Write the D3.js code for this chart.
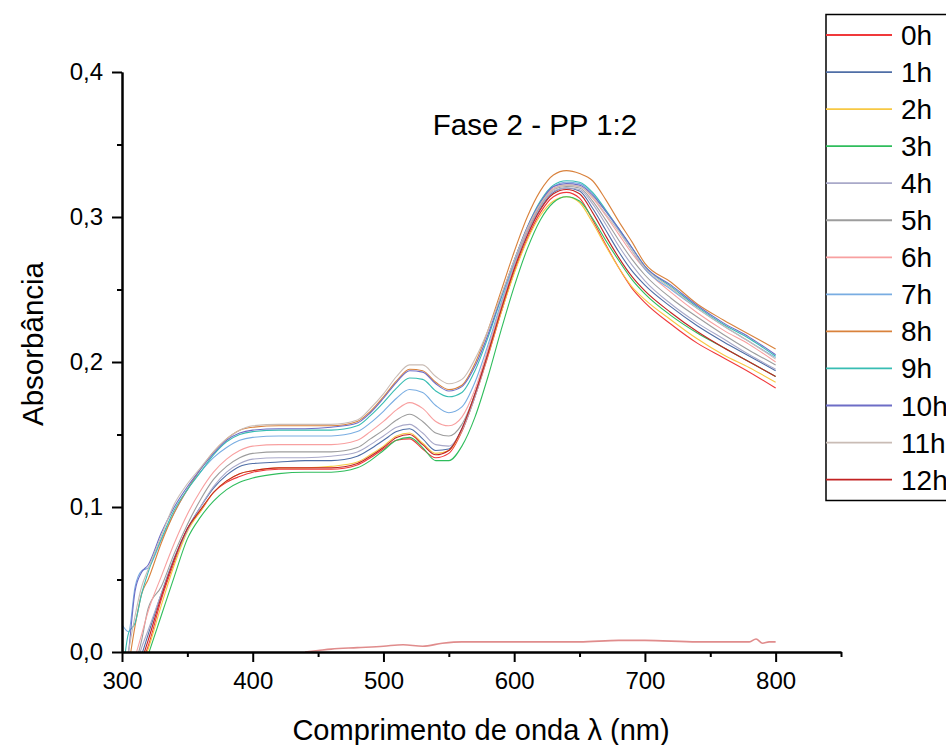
<!DOCTYPE html>
<html>
<head>
<meta charset="utf-8">
<script src="https://cdn.jsdelivr.net/npm/d3@7"></script>
<style>
  body { margin: 0; background: #fff; }
  svg { font-family: "Liberation Sans", Arial, sans-serif; }
</style>
</head>
<body>
<svg id="chart" width="946" height="745"></svg>
<script>
// wavelengths (nm) shared by all the spectra
const WAVELENGTHS = [300, 305, 310, 315, 320, 330, 340, 350, 360, 370, 380, 390, 400, 420, 440, 460, 480, 490, 500, 510, 520, 530, 540, 550, 560, 570, 580, 590, 600, 610, 620, 630, 640, 650, 660, 670, 680, 690, 700, 720, 740, 760, 780, 800]

const SERIES_NAMES = ["0h", "1h", "2h", "3h", "4h", "5h", "6h", "7h", "8h", "9h", "10h", "11h", "12h"]
const SERIES_COLORS = ["#f0393b", "#4f6ea6", "#f7c843", "#2fbd5c", "#a9a9c9", "#9d9d9d", "#f8a0a0", "#79ade2", "#d9823c", "#38bdb3", "#6d6dc6", "#c9bcb5", "#c22222"]

const ABS_0H  = [-0.04, -0.035, -0.025, -0.008, 0.004, 0.036, 0.062, 0.085, 0.097, 0.110, 0.117, 0.121, 0.124, 0.126, 0.126, 0.126, 0.129, 0.134, 0.140, 0.146, 0.147, 0.140, 0.134, 0.137, 0.152, 0.176, 0.204, 0.234, 0.262, 0.285, 0.303, 0.314, 0.317, 0.313, 0.298, 0.281, 0.265, 0.251, 0.241, 0.226, 0.213, 0.203, 0.193, 0.182]
const ABS_1H  = [-0.04, -0.03, -0.015, -0.002, 0.012, 0.040, 0.065, 0.085, 0.100, 0.113, 0.122, 0.128, 0.130, 0.131, 0.132, 0.132, 0.135, 0.140, 0.146, 0.152, 0.154, 0.147, 0.139, 0.140, 0.154, 0.178, 0.207, 0.237, 0.265, 0.288, 0.306, 0.317, 0.320, 0.318, 0.306, 0.291, 0.276, 0.263, 0.253, 0.238, 0.225, 0.214, 0.204, 0.194]
const ABS_2H  = [-0.04, -0.035, -0.025, -0.010, 0.002, 0.032, 0.060, 0.083, 0.097, 0.110, 0.118, 0.123, 0.125, 0.127, 0.127, 0.128, 0.131, 0.136, 0.142, 0.149, 0.151, 0.144, 0.137, 0.139, 0.153, 0.177, 0.205, 0.234, 0.261, 0.284, 0.301, 0.311, 0.314, 0.310, 0.296, 0.280, 0.265, 0.252, 0.243, 0.229, 0.216, 0.205, 0.196, 0.186]
const ABS_3H  = [-0.05, -0.04, -0.03, -0.015, -0.002, 0.025, 0.052, 0.078, 0.093, 0.104, 0.112, 0.117, 0.120, 0.123, 0.124, 0.124, 0.127, 0.132, 0.139, 0.146, 0.148, 0.141, 0.132, 0.132, 0.142, 0.162, 0.190, 0.222, 0.252, 0.278, 0.298, 0.310, 0.314, 0.311, 0.299, 0.284, 0.270, 0.257, 0.247, 0.232, 0.220, 0.210, 0.200, 0.190]
const ABS_4H  = [-0.04, -0.03, -0.012, 0.003, 0.015, 0.040, 0.064, 0.084, 0.100, 0.114, 0.124, 0.130, 0.133, 0.134, 0.134, 0.135, 0.138, 0.143, 0.149, 0.155, 0.157, 0.151, 0.143, 0.142, 0.153, 0.176, 0.206, 0.237, 0.265, 0.289, 0.307, 0.318, 0.320, 0.319, 0.309, 0.295, 0.280, 0.267, 0.256, 0.240, 0.227, 0.216, 0.205, 0.195]
const ABS_5H  = [-0.04, -0.03, -0.01, 0.008, 0.030, 0.045, 0.068, 0.088, 0.105, 0.119, 0.128, 0.134, 0.137, 0.138, 0.138, 0.138, 0.141, 0.147, 0.153, 0.160, 0.164, 0.159, 0.151, 0.149, 0.157, 0.178, 0.207, 0.238, 0.266, 0.290, 0.308, 0.319, 0.321, 0.320, 0.311, 0.298, 0.284, 0.271, 0.260, 0.244, 0.231, 0.219, 0.208, 0.198]
const ABS_6H  = [-0.04, -0.025, -0.004, 0.012, 0.028, 0.052, 0.075, 0.095, 0.111, 0.124, 0.133, 0.139, 0.142, 0.143, 0.143, 0.143, 0.146, 0.152, 0.159, 0.167, 0.172, 0.168, 0.159, 0.156, 0.162, 0.181, 0.209, 0.239, 0.267, 0.291, 0.309, 0.320, 0.322, 0.321, 0.313, 0.301, 0.288, 0.275, 0.264, 0.248, 0.234, 0.222, 0.212, 0.200]
const ABS_7H  = [0.019, 0.014, 0.045, 0.056, 0.058, 0.077, 0.096, 0.112, 0.124, 0.134, 0.141, 0.146, 0.148, 0.149, 0.149, 0.149, 0.152, 0.158, 0.166, 0.175, 0.181, 0.179, 0.170, 0.165, 0.169, 0.186, 0.212, 0.241, 0.268, 0.292, 0.310, 0.321, 0.324, 0.323, 0.316, 0.304, 0.291, 0.277, 0.264, 0.250, 0.237, 0.225, 0.214, 0.203]
const ABS_8H  = [-0.04, -0.01, 0.018, 0.040, 0.050, 0.075, 0.096, 0.112, 0.126, 0.138, 0.147, 0.153, 0.155, 0.156, 0.156, 0.156, 0.159, 0.166, 0.176, 0.187, 0.195, 0.194, 0.186, 0.181, 0.184, 0.199, 0.222, 0.249, 0.276, 0.300, 0.318, 0.329, 0.332, 0.330, 0.325, 0.312, 0.297, 0.283, 0.268, 0.255, 0.240, 0.229, 0.219, 0.209]
const ABS_9H  = [-0.02, 0.013, 0.020, 0.040, 0.055, 0.078, 0.098, 0.112, 0.124, 0.136, 0.145, 0.150, 0.152, 0.153, 0.153, 0.153, 0.156, 0.163, 0.172, 0.182, 0.189, 0.188, 0.180, 0.176, 0.179, 0.194, 0.217, 0.244, 0.270, 0.293, 0.311, 0.322, 0.325, 0.324, 0.317, 0.305, 0.292, 0.279, 0.266, 0.252, 0.238, 0.226, 0.216, 0.204]
const ABS_10H = [-0.03, 0.000, 0.042, 0.055, 0.060, 0.082, 0.100, 0.114, 0.126, 0.137, 0.146, 0.151, 0.153, 0.154, 0.154, 0.155, 0.158, 0.165, 0.175, 0.186, 0.194, 0.193, 0.185, 0.180, 0.183, 0.197, 0.219, 0.245, 0.270, 0.293, 0.310, 0.321, 0.323, 0.322, 0.315, 0.304, 0.292, 0.279, 0.266, 0.253, 0.239, 0.227, 0.217, 0.205]
const ABS_11H = [-0.03, 0.000, 0.025, 0.045, 0.057, 0.080, 0.102, 0.116, 0.127, 0.138, 0.147, 0.153, 0.156, 0.157, 0.157, 0.157, 0.160, 0.168, 0.178, 0.190, 0.198, 0.198, 0.190, 0.185, 0.188, 0.202, 0.222, 0.246, 0.270, 0.292, 0.309, 0.319, 0.322, 0.321, 0.314, 0.302, 0.290, 0.277, 0.265, 0.251, 0.237, 0.225, 0.214, 0.202]
const ABS_12H = [-0.04, -0.03, -0.02, -0.006, 0.008, 0.038, 0.064, 0.085, 0.098, 0.110, 0.118, 0.123, 0.125, 0.127, 0.127, 0.127, 0.130, 0.135, 0.141, 0.148, 0.150, 0.143, 0.136, 0.139, 0.154, 0.178, 0.206, 0.236, 0.264, 0.287, 0.305, 0.316, 0.319, 0.316, 0.303, 0.287, 0.272, 0.259, 0.249, 0.234, 0.221, 0.210, 0.200, 0.190]
const SERIES_VALUES = [ABS_0H, ABS_1H, ABS_2H, ABS_3H, ABS_4H, ABS_5H, ABS_6H, ABS_7H, ABS_8H, ABS_9H, ABS_10H, ABS_11H, ABS_12H]

// flat reference trace near zero (not in the legend)
const BASE_WAVELENGTHS = [440, 450, 460, 480, 500, 515, 530, 545, 560, 600, 620, 650, 680, 700, 740, 780, 785, 790, 795, 800]
const BASE_VALUES = [0.000, 0.001, 0.002, 0.003, 0.004, 0.005, 0.004, 0.006, 0.007, 0.007, 0.007, 0.007, 0.008, 0.008, 0.007, 0.007, 0.009, 0.006, 0.007, 0.007]

const X_MAJOR_TICKS = [300, 400, 500, 600, 700, 800]
const X_MINOR_TICKS = [350, 450, 550, 650, 750, 850]
const Y_MAJOR_TICKS = [0, 0.1, 0.2, 0.3, 0.4]
const Y_MINOR_TICKS = [0.05, 0.15, 0.25, 0.35]

const svg = d3.select("#chart")

const X_SCALE = d3.scaleLinear().domain([300, 850]).range([122, 841])
const Y_SCALE = d3.scaleLinear().domain([0, 0.4]).range([652, 72])
const commaFormat = d => d3.format(".1f")(d).replace(".", ",")

svg.append("defs").append("clipPath").attr("id", "plotClip")
    .append("rect")
    .attr("x", X_SCALE(300)).attr("y", Y_SCALE(0.4))
    .attr("width", X_SCALE(850) - X_SCALE(300))
    .attr("height", Y_SCALE(0) - Y_SCALE(0.4) + 1)

// spectra
const line = d3.line()
    .x(d => X_SCALE(d[0]))
    .y(d => Y_SCALE(d[1]))
    .curve(d3.curveMonotoneX)

const plot = svg.append("g").attr("clip-path", "url(#plotClip)")

plot.append("path")
    .datum(BASE_WAVELENGTHS.map((w, i) => [w, BASE_VALUES[i]]))
    .attr("d", line)
    .attr("fill", "none")
    .attr("stroke", "#e08c8c")
    .attr("stroke-width", 1.6)

SERIES_VALUES.forEach((vals, k) => {
    plot.append("path")
        .datum(WAVELENGTHS.map((w, i) => [w, vals[i]]))
        .attr("d", line)
        .attr("fill", "none")
        .attr("stroke", SERIES_COLORS[k])
        .attr("stroke-width", 1.1)
})

// axes
svg.append("g")
    .attr("transform", `translate(0, ${Y_SCALE(0)})`)
    .call(d3.axisBottom(X_SCALE).tickValues(X_MAJOR_TICKS).tickSize(10).tickSizeOuter(0).tickPadding(10))
svg.append("g")
    .attr("transform", `translate(0, ${Y_SCALE(0)})`)
    .call(d3.axisBottom(X_SCALE).tickValues(X_MINOR_TICKS).tickSize(5).tickSizeOuter(0).tickFormat(""))

svg.append("g")
    .attr("transform", `translate(${X_SCALE(300)}, 0)`)
    .call(d3.axisLeft(Y_SCALE).tickValues(Y_MAJOR_TICKS).tickSize(10).tickSizeOuter(0).tickPadding(9).tickFormat(commaFormat))
svg.append("g")
    .attr("transform", `translate(${X_SCALE(300)}, 0)`)
    .call(d3.axisLeft(Y_SCALE).tickValues(Y_MINOR_TICKS).tickSize(5).tickSizeOuter(0).tickFormat(""))

svg.selectAll(".domain").attr("stroke", "#000").attr("stroke-width", 2)
svg.selectAll(".tick line").attr("stroke", "#000").attr("stroke-width", 2)
svg.selectAll(".tick text")
    .attr("font-family", "'Liberation Sans', Arial, sans-serif")
    .attr("font-size", 24)
    .attr("fill", "#000")

// titles
svg.append("text")
    .attr("x", 535).attr("y", 135)
    .attr("text-anchor", "middle")
    .attr("font-size", 29.5)
    .text("Fase 2 - PP 1:2")

svg.append("text")
    .attr("x", 481).attr("y", 740)
    .attr("text-anchor", "middle")
    .attr("font-size", 29)
    .text("Comprimento de onda λ (nm)")

svg.append("text")
    .attr("transform", "translate(43, 344) rotate(-90)")
    .attr("text-anchor", "middle")
    .attr("font-size", 29.5)
    .text("Absorbância")

// legend
const legend = svg.append("g")
legend.append("rect")
    .attr("x", 826).attr("y", 14.5)
    .attr("width", 140).attr("height", 486)
    .attr("fill", "#fff")
    .attr("stroke", "#000")
    .attr("stroke-width", 1.5)

SERIES_NAMES.forEach((name, k) => {
    const y = 35 + k * 37.05
    legend.append("line")
        .attr("x1", 826).attr("x2", 892)
        .attr("y1", y).attr("y2", y)
        .attr("stroke", SERIES_COLORS[k])
        .attr("stroke-width", 1.8)
    legend.append("text")
        .attr("x", 901).attr("y", y + 10)
        .attr("font-size", 28)
        .text(name)
})
</script>
</body>
</html>
